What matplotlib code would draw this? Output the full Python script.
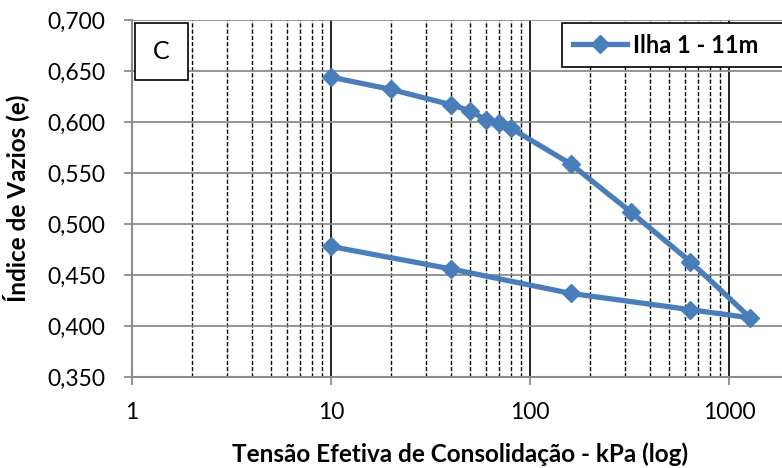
import numpy as np
import matplotlib.pyplot as plt
from matplotlib.ticker import FixedLocator, FuncFormatter, NullFormatter
from matplotlib.patches import Rectangle

plt.rcParams['font.family'] = ['Lato', 'DejaVu Sans']

# ensaio de adensamento - carregamento e descarregamento
tensao = [10, 20, 40, 50, 60, 70, 80, 160, 320, 640, 1280, 640, 160, 40, 10]
indice_vazios = [0.644, 0.632, 0.617, 0.611, 0.602, 0.599, 0.594, 0.559,
                 0.512, 0.463, 0.408, 0.416, 0.432, 0.456, 0.478]
serie = 'Ilha 1 - 11m'
painel = 'C'
y_ticks = [0.350, 0.400, 0.450, 0.500, 0.550, 0.600, 0.650, 0.700]
x_ticks = [1, 10, 100, 1000]

blue = '#4A7EBB'
grid_gray = '#8C8C8C'

fig = plt.figure(figsize=(7.82, 4.68), dpi=100)
ax = fig.add_axes([0.1688, 0.1944, 0.840, 0.7628])

ax.set_xscale('log')
ax.set_xlim(1, 2000)
ax.set_ylim(0.35, 0.70)

ax.xaxis.set_major_locator(FixedLocator(x_ticks))
ax.xaxis.set_major_formatter(FuncFormatter(lambda v, p: f'{v:g}'))
minors = [m * 10 ** d for d in range(0, 4) for m in range(2, 10) if m * 10 ** d < 2000]
ax.xaxis.set_minor_locator(FixedLocator(minors))
ax.xaxis.set_minor_formatter(NullFormatter())
ax.yaxis.set_major_locator(FixedLocator(y_ticks))
ax.yaxis.set_major_formatter(FuncFormatter(lambda v, p: f'{v:.3f}'.replace('.', ',')))

# grades
ax.grid(True, which='major', axis='y', color=grid_gray, linewidth=1.3)
ax.grid(True, which='major', axis='x', color='black', linewidth=1.2)
ax.grid(True, which='minor', axis='x', color='black', linewidth=1.0,
        linestyle=(0, (3, 1.5)))
ax.set_axisbelow(True)

for s in ['top', 'right']:
    ax.spines[s].set_visible(False)
for s in ['left', 'bottom']:
    ax.spines[s].set_color(grid_gray)
    ax.spines[s].set_linewidth(1.5)

ax.tick_params(axis='both', which='major', direction='out', length=6,
               width=1.3, color=grid_gray, labelsize=16.5, pad=12)
ax.tick_params(axis='x', which='minor', length=0)
ax.tick_params(axis='y', pad=13)

ax.plot(tensao, indice_vazios, color=blue, linewidth=3.8, marker='D',
        markersize=9.5, label=serie, zorder=5)

ax.set_xlabel('Tensão Efetiva de Consolidação - kPa (log)', fontsize=17.5,
              fontweight='bold', labelpad=14)
ax.set_ylabel('Índice de Vazios (e)', fontsize=17.5, fontweight='bold',
              labelpad=13)

# caixa do painel
ax.add_patch(Rectangle((0.005, 0.832), 0.080, 0.160, transform=ax.transAxes,
                       facecolor='white', edgecolor='black', linewidth=1.2,
                       zorder=6))
ax.text(0.045, 0.912, painel, transform=ax.transAxes, ha='center',
        va='center', fontsize=18, zorder=7)

# legenda cortada na borda direita, como no original
leg = ax.legend(loc='upper left', bbox_to_anchor=(0.655, 0.992, 0.40, 0),
                mode='expand', borderaxespad=0, frameon=True, fancybox=False,
                framealpha=1, edgecolor='black', handlelength=2.3,
                handletextpad=0.25, borderpad=0.45,
                prop={'weight': 'bold', 'size': 17})
leg.get_frame().set_linewidth(1.2)

plt.savefig('out.png', dpi=100)
